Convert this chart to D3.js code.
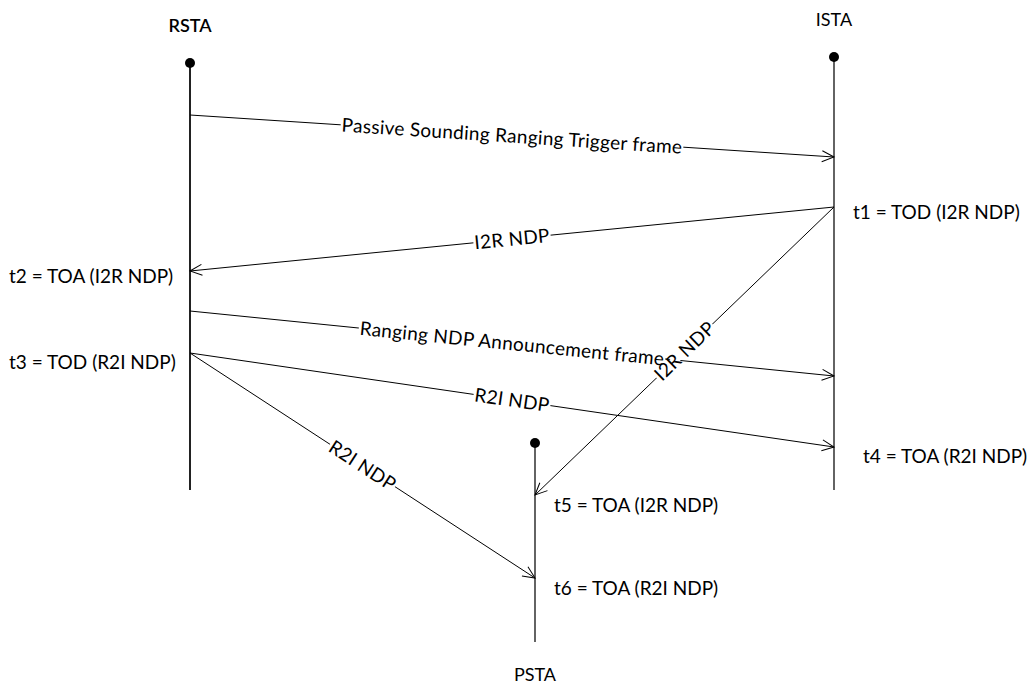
<!DOCTYPE html>
<html>
<head>
<meta charset="utf-8">
<script src="https://cdn.jsdelivr.net/npm/d3@7"></script>
<style>
  body { margin: 0; background: #fff; }
  text { font-family: Lato, "Open Sans", sans-serif; fill: #000; }
</style>
</head>
<body>
<div class="chart"></div>
<script>
'use strict';

// stations and their lifelines (start / end time)
const stations = ['RSTA', 'ISTA', 'PSTA'];
const lifeStart = [63, 57, 443];
const lifeEnd = [490, 490, 642];

// messages
const msgFrom = ['RSTA', 'ISTA', 'RSTA', 'RSTA', 'ISTA', 'RSTA'];
const msgTo = ['ISTA', 'RSTA', 'ISTA', 'ISTA', 'PSTA', 'PSTA'];
const msgSend = [115, 207, 311, 353, 207, 353];
const msgRecv = [157, 271, 376, 447, 495, 578];
const msgLabels = [
  'Passive Sounding Ranging Trigger frame',
  'I2R NDP',
  'Ranging NDP Announcement frame',
  'R2I NDP',
  'I2R NDP',
  'R2I NDP'
];

// timestamp notes
const noteStation = ['ISTA', 'RSTA', 'RSTA', 'ISTA', 'PSTA', 'PSTA'];
const noteTime = [212, 276, 362, 456, 505, 588];
const noteSide = ['right', 'left', 'left', 'right', 'right', 'right'];
const noteText = [
  't1 = TOD (I2R NDP)',
  't2 = TOA (I2R NDP)',
  't3 = TOD (R2I NDP)',
  't4 = TOA (R2I NDP)',
  't5 = TOA (I2R NDP)',
  't6 = TOA (R2I NDP)'
];

const WIDTH = 1028;
const HEIGHT = 684;

const x = d3.scaleOrdinal()
    .domain(stations)
    .range([190, 834, 535]);

const y = d3.scaleLinear()
    .domain([0, HEIGHT])
    .range([0, HEIGHT]);

const svg = d3.select('.chart')
  .append('svg')
    .attr('width', WIDTH)
    .attr('height', HEIGHT);

svg.append('defs').append('marker')
    .attr('id', 'arrow')
    .attr('markerUnits', 'userSpaceOnUse')
    .attr('viewBox', '-14 -8 16 16')
    .attr('markerWidth', 16)
    .attr('markerHeight', 16)
    .attr('refX', 0)
    .attr('refY', 0)
    .attr('orient', 'auto')
  .append('path')
    .attr('d', 'M-12,-5.5L0,0L-12,5.5')
    .attr('fill', 'none')
    .attr('stroke', '#000')
    .attr('stroke-width', 1);

// lifelines
const lanes = svg.append('g')
  .selectAll('g')
  .data(stations)
  .enter().append('g');

lanes.append('line')
    .attr('x1', d => x(d))
    .attr('x2', d => x(d))
    .attr('y1', (d, i) => y(lifeStart[i]))
    .attr('y2', (d, i) => y(lifeEnd[i]))
    .attr('stroke', '#222')
    .attr('stroke-width', (d, i) => i === 0 ? 2 : 1.4);

lanes.append('circle')
    .attr('cx', d => x(d))
    .attr('cy', (d, i) => y(lifeStart[i]))
    .attr('r', 5)
    .attr('fill', '#000');

lanes.append('text')
    .attr('x', d => x(d))
    .attr('y', (d, i) => i === 2 ? y(lifeEnd[i]) + 39 : y(lifeStart[i]) - 31)
    .attr('text-anchor', 'middle')
    .attr('font-size', 18)
    .attr('font-weight', (d, i) => i === 0 ? 600 : 400)
    .text(d => d);

// messages
const msgs = d3.range(msgLabels.length).map(i => {
  const x1 = x(msgFrom[i]), y1 = y(msgSend[i]);
  const x2 = x(msgTo[i]), y2 = y(msgRecv[i]);
  let ang = Math.atan2(y2 - y1, x2 - x1) * 180 / Math.PI;
  if (ang > 90) ang -= 180;
  if (ang < -90) ang += 180;
  return {x1, y1, x2, y2, ang, label: msgLabels[i]};
});

const msg = svg.append('g')
  .selectAll('g')
  .data(msgs)
  .enter().append('g');

msg.each(function(d) {
  const g = d3.select(this);
  g.append('line')
      .attr('x1', d.x1)
      .attr('y1', d.y1)
      .attr('x2', d.x2)
      .attr('y2', d.y2)
      .attr('stroke', '#000')
      .attr('stroke-width', 1)
      .attr('marker-end', 'url(#arrow)');

  const lab = g.append('g')
      .attr('transform', `translate(${(d.x1 + d.x2) / 2},${(d.y1 + d.y2) / 2}) rotate(${d.ang})`);
  const bg = lab.append('rect').attr('fill', '#fff');
  const t = lab.append('text')
      .attr('text-anchor', 'middle')
      .attr('dy', '0.35em')
      .attr('font-size', 19)
      .attr('letter-spacing', 0.3)
      .text(d.label);
  const bb = t.node().getBBox();
  bg.attr('x', bb.x - 1)
    .attr('y', -4)
    .attr('width', bb.width + 2)
    .attr('height', 8);
});

// timestamp notes
svg.append('g')
  .selectAll('text')
  .data(noteText)
  .enter().append('text')
    .attr('x', (d, i) => noteSide[i] === 'left' ? 9 : x(noteStation[i]) + (noteStation[i] === 'ISTA' && i === 3 ? 29 : 19))
    .attr('y', (d, i) => y(noteTime[i]))
    .attr('dy', '0.35em')
    .attr('font-size', 19)
    .text(d => d);
</script>
</body>
</html>
